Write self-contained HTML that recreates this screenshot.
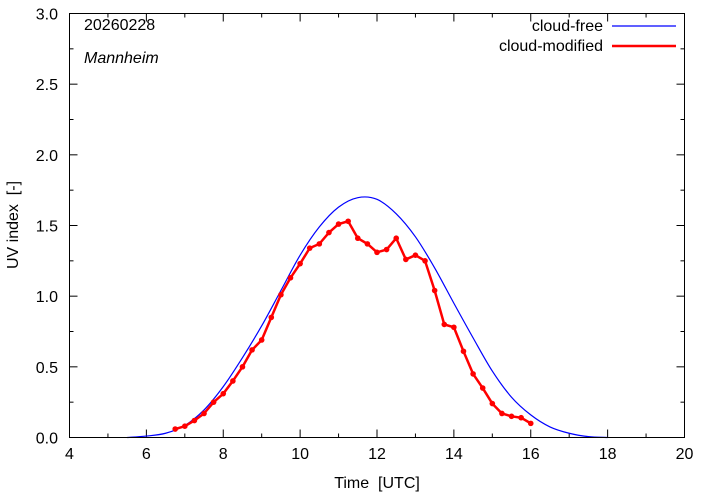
<!DOCTYPE html>
<html><head><meta charset="utf-8"><style>
html,body{margin:0;padding:0;background:#fff;}
svg{display:block;font-family:"Liberation Sans",sans-serif;}
</style></head><body>
<svg id="chart" width="702" height="497">
<rect x="0" y="0" width="702" height="497" fill="#fff"/>
<g id="ticks"></g>
<g id="series"></g>
<rect x="69.5" y="13.5" width="615" height="424" fill="none" stroke="#000" stroke-width="1"/>
<text x="84" y="30" font-size="16">20260228</text>
<text x="84" y="63" font-size="16" font-style="italic">Mannheim</text>
<g>
<text x="603" y="31" font-size="16" text-anchor="end">cloud-free</text>
<line x1="612" y1="26" x2="676" y2="26" stroke="#0000ff" stroke-width="1.2"/>
<text x="603" y="51" font-size="16" text-anchor="end">cloud-modified</text>
<line x1="612" y1="46" x2="676" y2="46" stroke="#ff0000" stroke-width="2.5"/>
</g>
<text x="377" y="488" font-size="16" text-anchor="middle">Time&#160; [UTC]</text>
<text transform="translate(18,225) rotate(-90)" font-size="16" text-anchor="middle">UV index&#160; [-]</text>
</svg>
<script>
const xTicks=[4,6,8,10,12,14,16,18,20];
const yTicks=[0.0,0.5,1.0,1.5,2.0,2.5,3.0];
const yTickLabels=["0.0","0.5","1.0","1.5","2.0","2.5","3.0"];
const freeTimes=[5.5,6,6.5,7,7.5,8,8.5,9,9.5,10,10.5,11,11.5,12,12.5,13,13.5,14,14.5,15,15.5,16,16.5,17,17.5,18];
const freeValues=[0,0.01,0.03,0.085,0.195,0.36,0.565,0.79,1.04,1.29,1.49,1.63,1.697,1.685,1.583,1.42,1.20,0.95,0.705,0.47,0.285,0.16,0.075,0.03,0.006,0];
const modTimes=[6.75,7,7.25,7.5,7.75,8,8.25,8.5,8.75,9,9.25,9.5,9.75,10,10.25,10.5,10.75,11,11.25,11.5,11.75,12,12.25,12.5,12.75,13,13.25,13.5,13.75,14,14.25,14.5,14.75,15,15.25,15.5,15.75,16];
const modValues=[0.06,0.08,0.12,0.17,0.25,0.31,0.40,0.50,0.62,0.69,0.85,1.01,1.13,1.23,1.34,1.37,1.45,1.51,1.53,1.41,1.37,1.31,1.33,1.41,1.26,1.29,1.25,1.04,0.80,0.78,0.61,0.45,0.35,0.24,0.17,0.15,0.14,0.10];
const X0=69.5,X1=684.5,Y0=437.5,Y1=13.5;
function xs(t){return X0+(t-4)/16*(X1-X0);}
function ys(v){return Y0-(v/3)*(Y0-Y1);}
const NS="http://www.w3.org/2000/svg";
const tg=document.getElementById('ticks'),sg=document.getElementById('series');
function mk(tag,a,p){const e=document.createElementNS(NS,tag);for(const k in a)e.setAttribute(k,a[k]);p.appendChild(e);return e;}
for(let t=4;t<=20;t++){const x=xs(t);const L=(t%2===0)?8:4;
 const a=mk('line',{x1:x,y1:Y0,x2:x,y2:Y0-L,stroke:'#000'},tg);
 
 
 const b=mk('line',{x1:x,y1:Y1,x2:x,y2:Y1+L,stroke:'#000'},tg);
 
 }
xTicks.forEach(t=>{const e=mk('text',{x:xs(t),y:459,'font-size':16,'text-anchor':'middle'},tg);e.textContent=t;
 
 });
for(let i=0;i<=12;i++){const v=i*0.25,y=ys(v),L=(i%2===0)?8:4;
 const a=mk('line',{x1:X0,y1:y,x2:X0+L,y2:y,stroke:'#000'},tg);
 
 
 const b=mk('line',{x1:X1,y1:y,x2:X1-L,y2:y,stroke:'#000'},tg);
 
 }
yTicks.forEach((v,i)=>{const e=mk('text',{x:58,y:ys(v)+6,'font-size':16,'text-anchor':'end'},tg);e.textContent=yTickLabels[i];
 
 });
function smooth(xsA,ysA){const P=xsA.map((t,i)=>[xs(t),ys(ysA[i])]);let d='M'+P[0][0]+','+P[0][1];
 for(let i=0;i<P.length-1;i++){const p0=P[Math.max(0,i-1)],p1=P[i],p2=P[i+1],p3=P[Math.min(P.length-1,i+2)];
  d+=' C'+(p1[0]+(p2[0]-p0[0])/6)+','+(p1[1]+(p2[1]-p0[1])/6)+' '+(p2[0]-(p3[0]-p1[0])/6)+','+(p2[1]-(p3[1]-p1[1])/6)+' '+p2[0]+','+p2[1];}
 return d;}
const bl=mk('path',{d:smooth(freeTimes,freeValues),fill:'none',stroke:'#0000ff','stroke-width':1.2},sg);


const rl=mk('polyline',{points:modTimes.map((t,i)=>xs(t)+','+ys(modValues[i])).join(' '),fill:'none',stroke:'#ff0000','stroke-width':2.5,'stroke-linejoin':'round'},sg);


modTimes.forEach((t,i)=>{const c=mk('circle',{cx:xs(t),cy:ys(modValues[i]),r:2.8,fill:'#ff0000'},sg);
 
 });
</script>
</body></html>
